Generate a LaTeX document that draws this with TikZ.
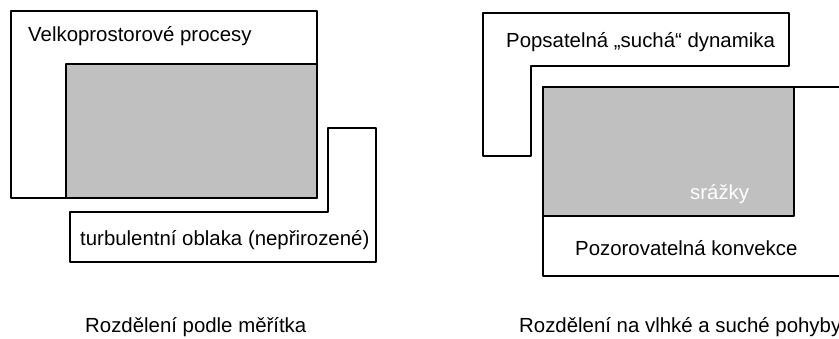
\documentclass[tikz,border=0pt]{standalone}
\usepackage{fontspec}
\setmainfont{Liberation Sans}
\definecolor{boxgray}{HTML}{C0C0C0}
\begin{document}
\begin{tikzpicture}[x=1pt,y=-1pt,
  frame/.style={draw=black,line width=2.4pt,line join=round},
  graybox/.style={frame,fill=boxgray},
  lbl/.style={inner sep=0pt,anchor=base west,font=\fontsize{20.4}{24}\selectfont},
  lblw/.style={lbl,text=white}]
\useasboundingbox (0,0) rectangle (839,338);
\begin{scope}
\clip (0,0) rectangle (839,338);
% left panel
\draw[frame] (11,11) rectangle (317,198);
\draw[graybox] (66,64) rectangle (317,198);
\draw[frame] (70,212) -- (328,212) -- (328,128) -- (376,128) -- (376,262) -- (70,262) -- cycle;
% right panel
\draw[frame] (483,13) -- (789,13) -- (789,66) -- (531,66) -- (531,156) -- (483,156) -- cycle;
\draw[frame] (860,87) -- (543,87) -- (543,276) -- (860,276);
\draw[graybox] (543,87) rectangle (794,216);
\end{scope}
\node[lbl] (velko) at (28,41) {Velkoprostorové procesy};
\node[lbl] (turb) at (80,245) {turbulentní oblaka (nepřirozené)};
\node[lbl] (capL) at (85,332) {Rozdělení podle měřítka};
\node[lbl] (popis) at (506,47) {Popsatelná „suchá“ dynamika};
\node[lblw] (srazky) at (690,199) {srážky};
\node[lbl] (pozor) at (575,255) {Pozorovatelná konvekce};
\node[lbl] (capR) at (519,332) {Rozdělení na vlhké a suché pohyby};
\end{tikzpicture}
\end{document}
